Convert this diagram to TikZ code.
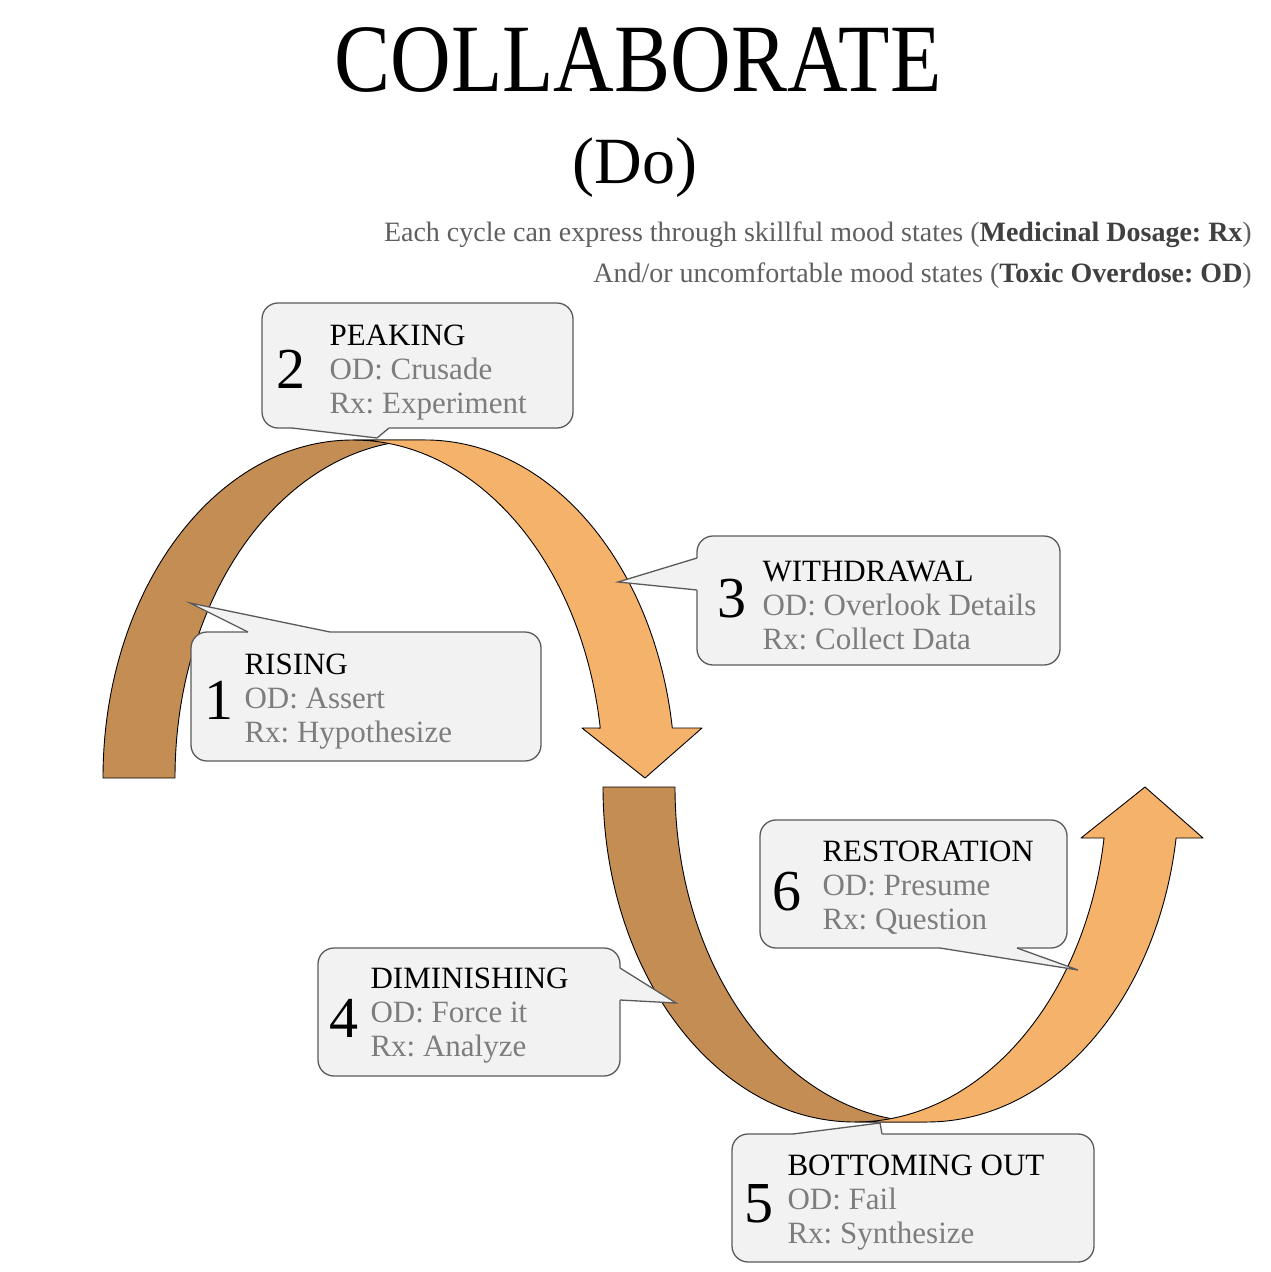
\documentclass[tikz,border=0pt]{standalone}
\usepackage{fontspec}
\setmainfont{Liberation Serif}
\usepackage{tikz}
\usetikzlibrary{positioning,calc}
\definecolor{arcdark}{RGB}{196,141,84}
\definecolor{arclight}{RGB}{245,178,107}
\definecolor{boxfill}{RGB}{242,242,242}
\definecolor{boxline}{RGB}{90,90,90}
\definecolor{subgray}{RGB}{95,95,95}
\definecolor{linegray}{RGB}{125,125,125}
\frenchspacing

\begin{document}
\begin{tikzpicture}[x=1pt,y=-1pt,
  band/.style={draw=black,line width=0.9pt,line join=round},
  box/.style={draw=boxline,fill=boxfill,line width=1.3pt,rounded corners=16pt,inner sep=0pt},
  ptr/.style={draw=boxline,line width=1.3pt,line join=miter},
  num/.style={font=\fontsize{58}{58}\selectfont,anchor=west,inner sep=0pt},
  lines/.style={font=\fontsize{31}{34}\selectfont,align=left,anchor=west,inner sep=0pt,text=linegray}]
  \useasboundingbox[fill=white] (0,0) rectangle (1270,1272);

  \node[font=\fontsize{84}{84}\selectfont,inner sep=0pt] (title) at (638,60) {\scalebox{1}[1.15]{COLLABORATE}};
  \node[font=\fontsize{66}{66}\selectfont,inner sep=0pt] (do) at (635,168) {(Do)};
  \node[font=\fontsize{28}{28}\selectfont,anchor=base east,inner sep=0pt,text=subgray] (sub1) at (1252,241)
    {Each cycle can express through skillful mood states (\textcolor{black!75}{\textbf{Medicinal Dosage: Rx}})};
  \node[font=\fontsize{28}{28}\selectfont,anchor=base east,inner sep=0pt,text=subgray] (sub2) at (1252,282)
    {And/or uncomfortable mood states (\textcolor{black!75}{\textbf{Toxic Overdose: OD}})};

  % upper arch, falling into the arrow head
  \path[band,fill=arcdark] (103,778) arc[start angle=180,end angle=270,x radius=250,y radius=338]
    -- (425,440) arc[start angle=270,end angle=180,x radius=250,y radius=338] -- cycle;
  \path[band,fill=arclight] (353,440) arc[start angle=270,end angle=351.5,x radius=250,y radius=338]
    -- (582,728) -- (645,778) -- (702,728) -- (672.3,728)
    arc[start angle=351.5,end angle=270,x radius=250,y radius=338] -- cycle;

  % lower bowl, rising into the arrow head
  \path[band,fill=arcdark] (603,787) arc[start angle=180,end angle=90,x radius=252,y radius=335]
    -- (927,1122) arc[start angle=90,end angle=180,x radius=252,y radius=335] -- cycle;
  \path[band,fill=arclight] (855,1122) arc[start angle=90,end angle=8.76,x radius=252,y radius=335]
    -- (1081,838) -- (1145,787) -- (1203,838) -- (1176.1,838)
    arc[start angle=8.76,end angle=90,x radius=252,y radius=335] -- cycle;

  % 1 rising
  \node[box,minimum width=350pt,minimum height=129pt] (box1) at (366,696.5) {};
  \fill[boxfill] (248,636) -- (248,632) -- (190,603) -- (330,632) -- (330,636) -- cycle;
  \draw[ptr] (248,632) -- (190,603) -- (330,632);
  \node[num] (n1) at ($(box1.west)+(14,4)$) {1};
  \node[lines] (t1) at ($(box1.west)+(54,5)$) {\textcolor{black}{RISING}\\OD: Assert\\Rx: Hypothesize};

  % 2 peaking
  \node[box,minimum width=311pt,minimum height=125pt] (box2) at (417.5,365.5) {};
  \fill[boxfill] (292,424) -- (292,428) -- (377,438) -- (389,428) -- (389,424) -- cycle;
  \draw[ptr] (292,428) -- (377,438) -- (389,428);
  \node[num] (n2) at ($(box2.west)+(15,4)$) {2};
  \node[lines] (t2) at ($(box2.west)+(68,7)$) {\textcolor{black}{PEAKING}\\OD: Crusade\\Rx: Experiment};

  % 3 withdrawal
  \node[box,minimum width=363pt,minimum height=129pt] (box3) at (878.5,600.5) {};
  \fill[boxfill] (701,558) -- (697,558) -- (618,582) -- (697,590) -- (701,590) -- cycle;
  \draw[ptr] (697,558) -- (618,582) -- (697,590);
  \node[num] (n3) at ($(box3.west)+(21,-2)$) {3};
  \node[lines] (t3) at ($(box3.west)+(66,5)$) {\textcolor{black}{WITHDRAWAL}\\OD: Overlook Details\\Rx: Collect Data};

  % 4 diminishing
  \node[box,minimum width=302pt,minimum height=128pt] (box4) at (469,1012) {};
  \fill[boxfill] (616,968) -- (620,968) -- (676,1003) -- (620,1000) -- (616,1000) -- cycle;
  \draw[ptr] (620,968) -- (676,1003) -- (620,1000);
  \node[num] (n4) at ($(box4.west)+(12,6)$) {4};
  \node[lines] (t4) at ($(box4.west)+(53,4)$) {\textcolor{black}{DIMINISHING}\\OD: Force it\\Rx: Analyze};

  % 5 bottoming out
  \node[box,minimum width=362pt,minimum height=128pt] (box5) at (913,1198) {};
  \fill[boxfill] (793,1138) -- (793,1134) -- (880,1123) -- (882,1134) -- (882,1138) -- cycle;
  \draw[ptr] (793,1134) -- (880,1123) -- (882,1134);
  \node[num] (n5) at ($(box5.west)+(13,6)$) {5};
  \node[lines] (t5) at ($(box5.west)+(56,5)$) {\textcolor{black}{BOTTOMING OUT}\\OD: Fail\\Rx: Synthesize};

  % 6 restoration
  \node[box,minimum width=307pt,minimum height=128pt] (box6) at (913.5,884) {};
  \fill[boxfill] (940,944) -- (940,948) -- (1078,970) -- (1017,948) -- (1017,944) -- cycle;
  \draw[ptr] (940,948) -- (1078,970) -- (1017,948);
  \node[num] (n6) at ($(box6.west)+(13,8)$) {6};
  \node[lines] (t6) at ($(box6.west)+(63,4)$) {\textcolor{black}{RESTORATION}\\OD: Presume\\Rx: Question};
\end{tikzpicture}
\end{document}
